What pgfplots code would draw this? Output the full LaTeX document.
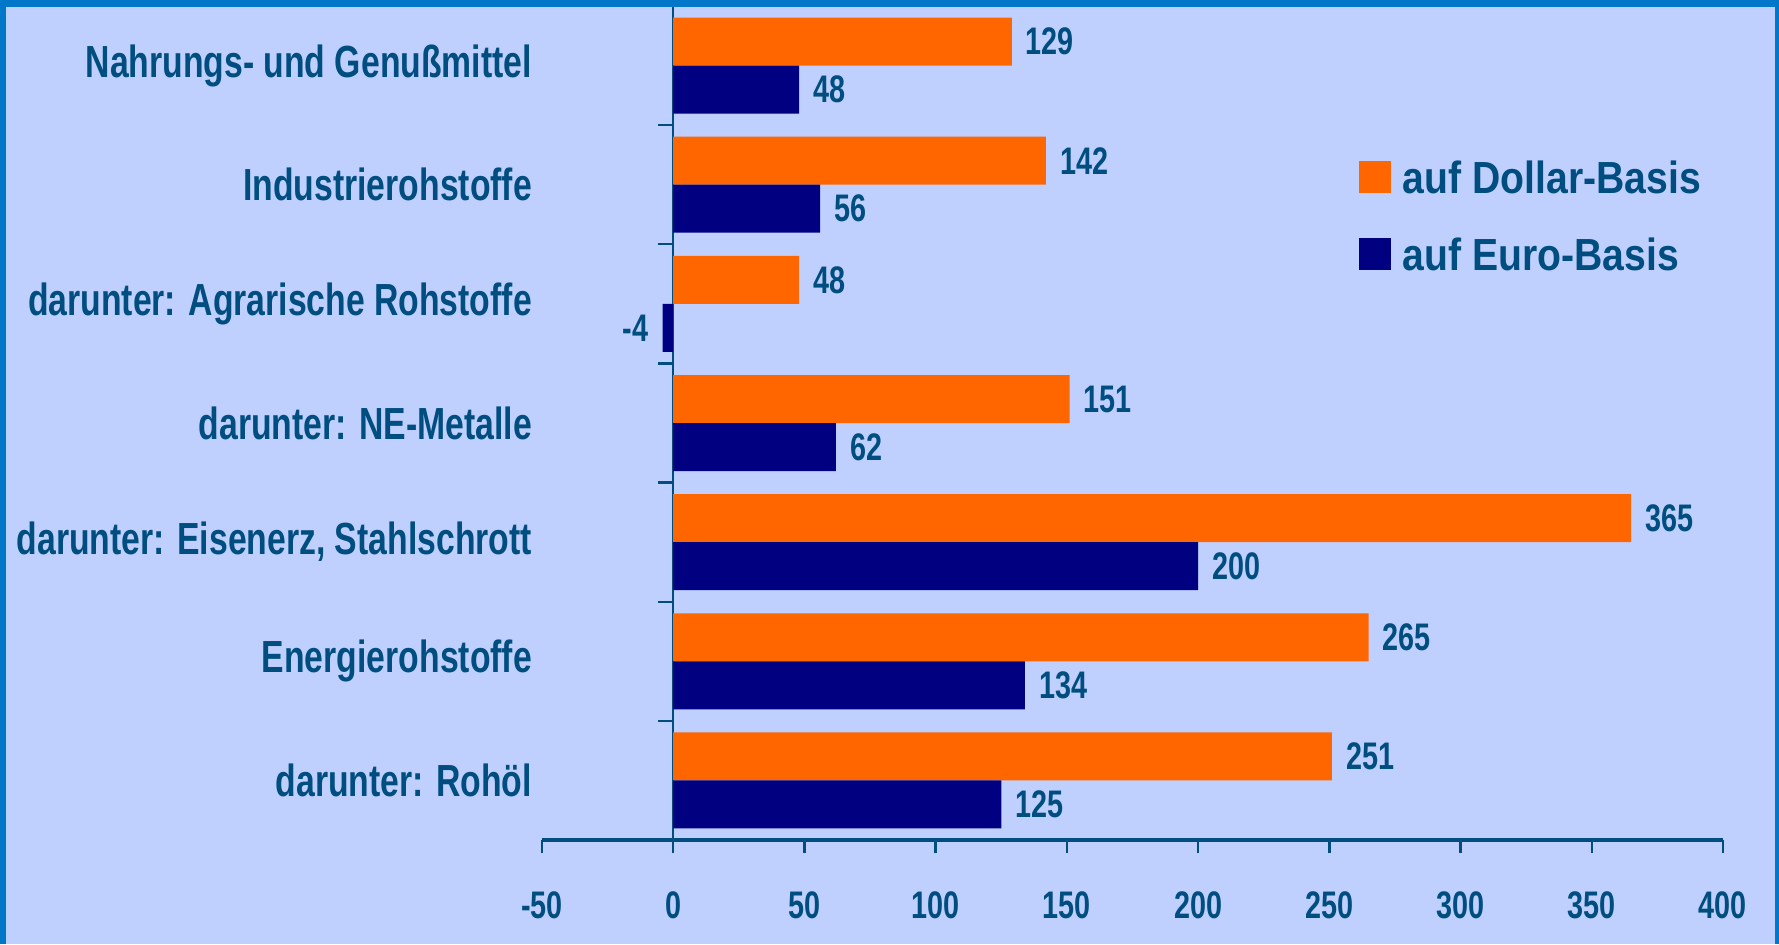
\documentclass[border=0pt]{standalone}
\usepackage{pgfplots}
\pgfplotsset{compat=1.18}
\usepackage{fontspec}
\newfontfamily\labfont[FakeStretch=0.75]{Liberation Sans}
\newfontfamily\legfont[FakeStretch=0.87]{Liberation Sans}
\definecolor{bgblue}{RGB}{191,208,255}
\definecolor{frameblue}{RGB}{0,119,200}
\definecolor{txtblue}{RGB}{0,78,128}
\definecolor{dollar}{RGB}{255,102,0}
\definecolor{euro}{RGB}{0,0,128}

\begin{document}
\begin{tikzpicture}
% background, 1px = 0.25pt
\fill[bgblue, use as bounding box] (0,0) rectangle (444.75pt,236pt);

\begin{axis}[
    at={(135.5pt,26pt)}, anchor=south west,
    scale only axis,
    width=295.25pt, height=208.5pt,
    xbar=0pt, bar width=12pt,
    xmin=-50, xmax=400,
    ymin=-0.5, ymax=6.5,
    xtick={-50,0,...,400},
    ytick={0,...,6},
    yticklabels={darunter: Rohöl, Energierohstoffe, {darunter: Eisenerz, Stahlschrott}, darunter: NE-Metalle, darunter: Agrarische Rohstoffe, Industrierohstoffe, Nahrungs- und Genußmittel},
    minor ytick={-0.5,0.5,...,6.5},
    axis x line=bottom, axis y line=center,
    axis line style={-, draw=txtblue},
    x axis line style={line width=1.1pt},
    y axis line style={line width=0.6pt},
    tick align=outside,
    major tick length=3.3pt, minor tick length=3.75pt,
    major y tick style={draw=none},
    minor y tick style={draw=txtblue, line width=0.6pt},
    major x tick style={draw=txtblue, line width=0.6pt},
    /pgf/number format/assume math mode=true,
    xticklabel style={font=\labfont\bfseries\fontsize{9.6}{11}\selectfont, text=txtblue, yshift=-6pt},
    yticklabel style={font=\labfont\bfseries\fontsize{11.25}{13}\selectfont, text=txtblue, anchor=east, xshift=-28.5pt},
    nodes near coords,
    nodes near coords style={font=\labfont\bfseries\fontsize{9.6}{11}\selectfont, text=txtblue},
    legend style={at={(0.691,0.815)}, anchor=north west, draw=none, fill=none,
        inner sep=0pt, row sep=9pt,
        nodes={inner xsep=3pt, inner ysep=0pt, text height=8pt, text depth=2pt},
        font=\legfont\bfseries\fontsize{11.25}{13}\selectfont, text=txtblue},
    legend image code/.code={\fill[#1] (0pt,-2.8pt) rectangle (8pt,5.2pt);},
    legend cell align=left,
]
\addplot[fill=dollar, draw=none, bar shift=6pt] coordinates {
    (251,0) (265,1) (365,2) (151,3) (48,4) (142,5) (129,6)
};
\addplot[fill=euro, draw=none, bar shift=-6pt] coordinates {
    (125,0) (134,1) (200,2) (62,3) (-4,4) (56,5) (48,6)
};
\legend{auf Dollar-Basis, auf Euro-Basis}
\end{axis}

% frame
\fill[frameblue] (0,234.25pt) rectangle (444.75pt,236pt);
\fill[frameblue] (0,0) rectangle (1.5pt,236pt);
\fill[frameblue] (443.75pt,0) rectangle (444.75pt,236pt);
\end{tikzpicture}
\end{document}
